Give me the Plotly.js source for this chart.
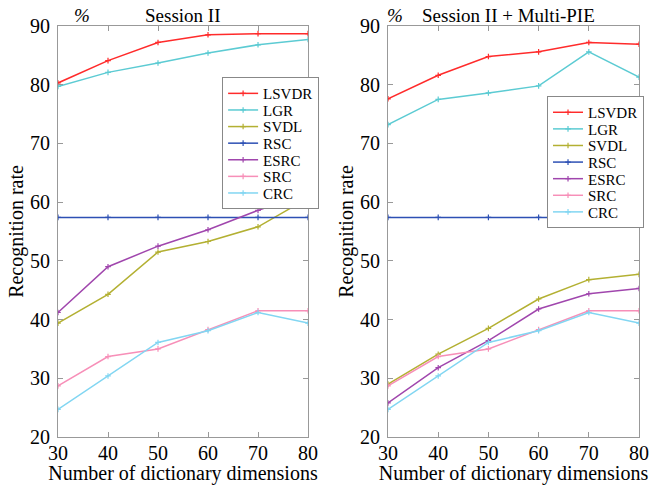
<!DOCTYPE html>
<html>
<head>
<meta charset="utf-8">
<script src="https://cdn.plot.ly/plotly-3.0.1.min.js"></script>
<style>html,body{margin:0;padding:0;background:#fff;}#chart{width:662px;height:485px;}</style>
</head>
<body>
<div id="chart"></div>
<script>
var dims = [30, 40, 50, 60, 70, 80];
var methods = ["LSVDR", "LGR", "SVDL", "RSC", "ESRC", "SRC", "CRC"];
var colors = ["#ff2b2b", "#5ccbd3", "#b3b032", "#2d50b4", "#a046ad", "#f78fb8", "#82d6f2"];

// Session II
var s1_LSVDR = [80.3, 84.1, 87.2, 88.5, 88.7, 88.7];
var s1_LGR   = [79.7, 82.1, 83.7, 85.4, 86.8, 87.7];
var s1_SVDL  = [39.4, 44.3, 51.5, 53.3, 55.8, 60.7];
var s1_RSC   = [57.4, 57.4, 57.4, 57.4, 57.4, 57.4];
var s1_ESRC  = [41.2, 49.0, 52.5, 55.3, 58.6, 61.4];
var s1_SRC   = [28.7, 33.7, 35.0, 38.3, 41.5, 41.5];
var s1_CRC   = [24.7, 30.4, 36.1, 38.1, 41.2, 39.4];

// Session II + Multi-PIE
var s2_LSVDR = [77.6, 81.6, 84.8, 85.6, 87.2, 86.9];
var s2_LGR   = [73.2, 77.5, 78.6, 79.8, 85.6, 81.3];
var s2_SVDL  = [29.0, 34.1, 38.5, 43.5, 46.8, 47.7];
var s2_RSC   = [57.4, 57.4, 57.4, 57.4, 57.4, 57.4];
var s2_ESRC  = [25.8, 31.8, 36.4, 41.8, 44.4, 45.3];
var s2_SRC   = [28.7, 33.7, 35.0, 38.3, 41.5, 41.5];
var s2_CRC   = [24.7, 30.4, 36.1, 38.1, 41.2, 39.4];

var yTicks = [20, 30, 40, 50, 60, 70, 80, 90];

var set1 = [s1_LSVDR, s1_LGR, s1_SVDL, s1_RSC, s1_ESRC, s1_SRC, s1_CRC];
var set2 = [s2_LSVDR, s2_LGR, s2_SVDL, s2_RSC, s2_ESRC, s2_SRC, s2_CRC];

var traces = [];
function addSet(set, xa, ya, leg) {
  for (var i = 0; i < methods.length; i++) {
    traces.push({
      x: dims, y: set[i], xaxis: xa, yaxis: ya,
      name: methods[i], legend: leg, type: 'scatter', mode: 'lines+markers',
      line: {color: colors[i], width: 1.5},
      marker: {symbol: 'cross-thin', size: 4, color: colors[i], line: {color: colors[i], width: 1.2}}
    });
  }
}
addSet(set1, 'x', 'y', 'legend');
addSet(set2, 'x2', 'y2', 'legend2');

var FAM = '"Liberation Serif", "Times New Roman", serif';
function f(sz) { return {family: FAM, color: '#000', size: sz}; }
function xax(dom, anchor) {
  return {domain: dom, anchor: anchor, range: [30, 80], tickvals: dims, ticks: 'inside', ticklen: 5,
    tickcolor: '#999', showline: true, linecolor: '#999', linewidth: 1, mirror: 'ticks', showgrid: false,
    zeroline: false, tickfont: f(20), ticklabelstandoff: -2,
    title: {text: 'Number of dictionary dimensions', font: f(20), standoff: 0}};
}
function yax(anchor) {
  return {domain: [0.099, 0.9464], anchor: anchor, range: [20, 90], tickvals: yTicks, ticks: 'inside', ticklen: 5,
    tickcolor: '#999', showline: true, linecolor: '#999', linewidth: 1, mirror: 'ticks', showgrid: false,
    zeroline: false, tickfont: f(20), ticklabelstandoff: 3,
    title: {text: 'Recognition rate', font: f(20), standoff: 0}};
}
var layout = {
  width: 662, height: 485, margin: {l: 0, r: 0, t: 0, b: 0},
  paper_bgcolor: '#fff', plot_bgcolor: '#fff', showlegend: true,
  xaxis: xax([0.0876, 0.4653], 'y'),
  yaxis: yax('x'),
  xaxis2: xax([0.5861, 0.9653], 'y2'),
  yaxis2: yax('x2'),
  legend: {x: 0.3355, y: 0.841, xanchor: 'left', yanchor: 'top', bgcolor: '#fff', bordercolor: '#888', borderwidth: 1,
    font: f(15), tracegroupgap: 0, itemwidth: 30},
  legend2: {x: 0.8263, y: 0.802, xanchor: 'left', yanchor: 'top', bgcolor: '#fff', bordercolor: '#888', borderwidth: 1,
    font: f(15), tracegroupgap: 0, itemwidth: 30},
  annotations: [
    {text: 'Session II', xref: 'paper', yref: 'paper', x: 183/662, y: 1 - 15/485, showarrow: false, font: f(19), xanchor: 'center', yanchor: 'middle'},
    {text: '<i>%</i>', xref: 'paper', yref: 'paper', x: 82/662, y: 1 - 15/485, showarrow: false, font: f(19), xanchor: 'center', yanchor: 'middle'},
    {text: 'Session II + Multi-PIE', xref: 'paper', yref: 'paper', x: 508/662, y: 1 - 15/485, showarrow: false, font: f(19), xanchor: 'center', yanchor: 'middle'},
    {text: '<i>%</i>', xref: 'paper', yref: 'paper', x: 395/662, y: 1 - 15/485, showarrow: false, font: f(19), xanchor: 'center', yanchor: 'middle'}
  ]
};
Plotly.newPlot('chart', traces, layout, {displayModeBar: false, staticPlot: true}).then(function (gd) {
  // compact the legend rows toward the tight spacing of the original figure
  var STEP = 16.6;
  var legs = gd.querySelectorAll('.infolayer > g');
  legs.forEach(function (lg) {
    var cls = lg.getAttribute('class') || '';
    if (cls.indexOf('legend') !== 0) return;
    var items = lg.querySelectorAll('g.traces');
    if (!items.length) return;
    var ys = [], xs = [];
    items.forEach(function (it) {
      var m = /translate\(\s*([-\d.e]+)[ ,]+([-\d.e]+)\s*\)/.exec(it.getAttribute('transform') || '');
      xs.push(m ? parseFloat(m[1]) : 0);
      ys.push(m ? parseFloat(m[2]) : 0);
    });
    var oldStep = items.length > 1 ? (ys[1] - ys[0]) : STEP;
    var y0 = ys[0] - 1;
    items.forEach(function (it, i) {
      it.setAttribute('transform', 'translate(' + xs[i] + ',' + (y0 + i * STEP) + ')');
    });
    var shrink = (oldStep - STEP) * (items.length - 1) + 3;
    lg.querySelectorAll('rect.bg').forEach(function (r) {
      var h = parseFloat(r.getAttribute('height'));
      r.setAttribute('height', h - shrink);
    });
  });
});
</script>
</body>
</html>
